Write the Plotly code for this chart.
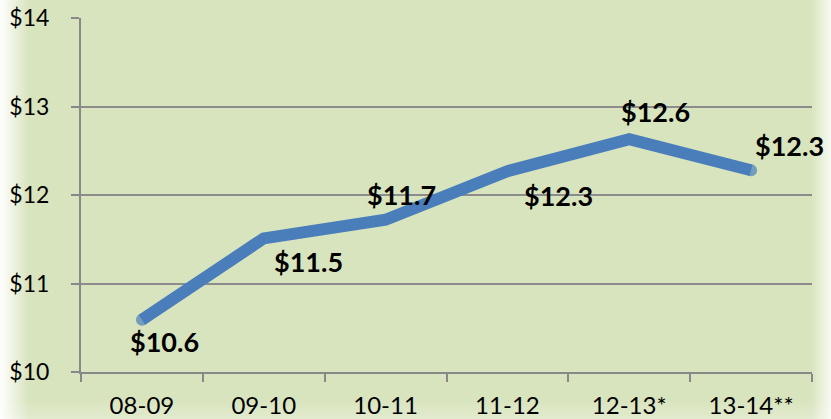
import plotly.graph_objects as go

categories = ["08-09", "09-10", "10-11", "11-12", "12-13*", "13-14**"]
values = [10.59, 11.51, 11.72, 12.27, 12.63, 12.28]
labels = ["$10.6", "$11.5", "$11.7", "$12.3", "$12.6", "$12.3"]
label_offsets = [(23, -22), (45, -23), (16, 25), (51, -24), (26, 28), (38, 25)]
y_ticks = [10, 11, 12, 13, 14]
y_tick_text = ["$10", "$11", "$12", "$13", "$14"]

W, H = 831, 419
L, R, T, B = 81, 19, 18, 47
pw = W - L - R
ph = H - T - B
GREEN = "#d8e4bd"
LINE = "#4a7ebb"

cap_sizes = [12 if i in (0, len(values) - 1) else 0 for i in range(len(values))]

fig = go.Figure()
fig.add_trace(go.Scatter(
    x=categories, y=values, mode="lines+markers",
    line=dict(color=LINE, width=12),
    marker=dict(color=LINE, size=cap_sizes, line=dict(width=0)),
    hoverinfo="skip", showlegend=False,
))

annotations = []
for c, v, t, (dx, dy) in zip(categories, values, labels, label_offsets):
    annotations.append(dict(
        x=c, y=v, text="<b>" + t + "</b>", showarrow=False,
        xshift=dx, yshift=dy,
        font=dict(family="Lato", size=27, color="#000000"),
    ))

def px2x(p):
    return (p - L) / pw

def py2y(p):
    return 1 - (p - T) / ph

shapes = []
n = 14
for i in range(n):
    x0 = i * 2
    op = 1 - i / n
    shapes.append(dict(type="rect", xref="paper", yref="paper",
                       x0=px2x(x0), x1=px2x(x0 + 2), y0=py2y(H), y1=py2y(0),
                       fillcolor="white", opacity=op * 0.95, line=dict(width=0),
                       layer="below"))
n = 10
for i in range(n):
    x0 = 812 + i * 2
    op = (i + 1) / n
    shapes.append(dict(type="rect", xref="paper", yref="paper",
                       x0=px2x(x0), x1=px2x(x0 + 2), y0=py2y(H), y1=py2y(0),
                       fillcolor="white", opacity=op * 0.8, line=dict(width=0),
                       layer="below"))
n = 10
for i in range(n):
    y0 = 399 + i * 2
    op = (i + 1) / n
    shapes.append(dict(type="rect", xref="paper", yref="paper",
                       x0=px2x(0), x1=px2x(W), y0=py2y(y0 + 2), y1=py2y(y0),
                       fillcolor="white", opacity=op * 0.25, line=dict(width=0),
                       layer="below"))

fig.update_layout(
    width=W, height=H, autosize=False,
    margin=dict(l=L, r=R, t=T, b=B, pad=0, autoexpand=False),
    paper_bgcolor=GREEN, plot_bgcolor="rgba(0,0,0,0)",
    font=dict(family="Lato", size=22, color="#000000"),
    annotations=annotations,
    shapes=shapes,
    xaxis=dict(
        type="category", showgrid=False, zeroline=False, automargin=False,
        showline=True, linecolor="#888888", linewidth=2,
        ticks="outside", ticklen=8, tickcolor="#888888", tickwidth=2,
        tickson="boundaries", range=[-0.5, 5.5],
        ticklabelstandoff=11,
        tickfont=dict(family="Lato", size=24),
    ),
    yaxis=dict(
        range=[10, 14], tickvals=y_ticks, ticktext=y_tick_text, automargin=False,
        showgrid=True, gridcolor="#8c8c8c", gridwidth=2, zeroline=False,
        showline=True, linecolor="#888888", linewidth=2,
        ticks="outside", ticklen=8, tickcolor="#888888", tickwidth=2,
        ticklabelstandoff=17,
        tickfont=dict(family="Lato", size=23),
    ),
)

fig.write_html("out.html", config={"displayModeBar": False})
with open("out.html", "r", encoding="utf-8") as f:
    html = f.read()
html = html.replace("<body>", '<body style="margin:0;padding:0;overflow:hidden;">', 1)
with open("out.html", "w", encoding="utf-8") as f:
    f.write(html)
